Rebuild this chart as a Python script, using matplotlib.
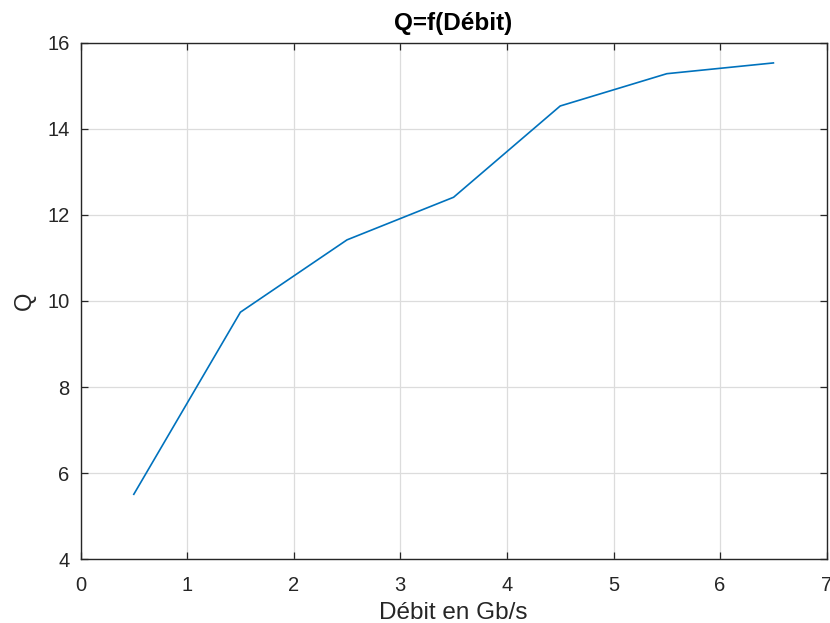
import matplotlib
matplotlib.use("Agg")
import matplotlib.pyplot as plt

debit = [0.5, 1.5, 2.5, 3.5, 4.5, 5.5, 6.5]
q_values = [5.51, 9.74, 11.42, 12.41, 14.53, 15.28, 15.53]
x_ticks = [0, 1, 2, 3, 4, 5, 6, 7]
y_ticks = [4, 6, 8, 10, 12, 14, 16]

plt.rcParams['font.family'] = ['Liberation Sans', 'DejaVu Sans']

fig = plt.figure(figsize=(8.3, 6.23), dpi=100)
ax = fig.add_axes([80.5/830, (623-559.3)/623, (826.7-80.5)/830, (559.3-42.7)/623])

ax.plot(debit, q_values, color='#0072BD', linewidth=1.2)

ax.set_xlim(0, 7)
ax.set_ylim(4, 16)
ax.set_xticks(x_ticks)
ax.set_yticks(y_ticks)
ax.grid(True, color='#dcdcdc', linewidth=0.9)
ax.set_axisbelow(True)
ax.tick_params(direction='in', length=5, width=0.9, colors='#262626',
               labelsize=14.5, top=True, right=True, labeltop=False, labelright=False)
ax.tick_params(axis='x', pad=12)
ax.tick_params(axis='y', pad=8)
for s in ax.spines.values():
    s.set_color('#262626')
    s.set_linewidth(1.0)

ax.set_xlabel('Débit en Gb/s', fontsize=17.5, color='#262626', labelpad=5)
ax.set_ylabel('Q', fontsize=17, color='#262626', labelpad=8)
ax.set_title('Q=f(Débit)', fontsize=17.5, fontweight='bold', color='#000000', pad=9)

fig.savefig('out.png', dpi=100)
